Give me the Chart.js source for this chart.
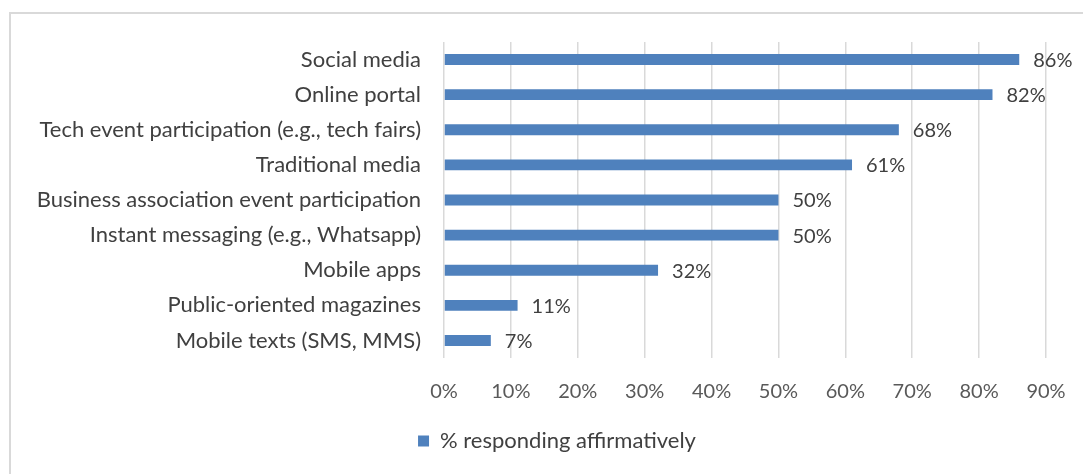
<!DOCTYPE html>
<html lang="en">
<head>
    <meta charset="UTF-8">
    <title>% responding affirmatively</title>
    <script src="https://cdn.jsdelivr.net/npm/chart.js"></script>
    <style>
        html, body {
            margin: 0;
            padding: 0;
            background: #ffffff;
            overflow: hidden;
        }
        .frame {
            position: absolute;
            left: 9px;
            top: 12px;
            width: 1200px;
            height: 600px;
            border-left: 2px solid #d9d9d9;
            border-top: 2px solid #d9d9d9;
        }
        #chartBox {
            position: absolute;
            left: 0;
            top: 0;
            width: 1083px;
            height: 474px;
        }
    </style>
</head>
<body>
    <div class="frame"></div>
    <div id="chartBox">
        <canvas id="channelChart"></canvas>
    </div>

    <script>
        // channels and share of respondents using each one
        const categories = [
            'Social media',
            'Online portal',
            'Tech event participation (e.g., tech fairs)',
            'Traditional media',
            'Business association event participation',
            'Instant messaging (e.g., Whatsapp)',
            'Mobile apps',
            'Public-oriented magazines',
            'Mobile texts (SMS, MMS)'
        ];
        const values = [86, 82, 68, 61, 50, 50, 32, 11, 7];
        const seriesName = '% responding affirmatively';
        const axisMax = 90;
        const axisStep = 10;

        const fontFamily = 'Lato, "Open Sans", sans-serif';
        const textSize = 22;   // category names and legend
        const numberSize = 20; // percentages

        const plotLeft = 444;
        const legendShift = 34;

        // write the percentage just past the end of each bar
        const valueLabels = {
            id: 'valueLabels',
            afterDatasetsDraw(chart) {
                const ctx = chart.ctx;
                const meta = chart.getDatasetMeta(0);
                ctx.save();
                ctx.font = numberSize + 'px ' + fontFamily;
                ctx.fillStyle = '#404040';
                ctx.textAlign = 'left';
                ctx.textBaseline = 'middle';
                meta.data.forEach((bar, i) => {
                    ctx.fillText(values[i] + '%', bar.x + 14, bar.y + 1);
                });
                ctx.restore();
            }
        };

        // legend sits a little right of the canvas centre
        const nudgeLegend = {
            id: 'nudgeLegend',
            afterLayout(chart) {
                if (chart.legend) {
                    chart.legend.left += legendShift;
                    chart.legend.right += legendShift;
                }
            }
        };

        const ctx = document.getElementById('channelChart').getContext('2d');
        const channelChart = new Chart(ctx, {
            type: 'bar',
            data: {
                labels: categories,
                datasets: [{
                    label: seriesName,
                    data: values,
                    backgroundColor: '#4f81bd',
                    borderWidth: 0,
                    barPercentage: 0.62,
                    categoryPercentage: 0.5
                }]
            },
            options: {
                indexAxis: 'y',
                responsive: true,
                maintainAspectRatio: false,
                animation: false,
                layout: {
                    padding: { top: 42, right: 37, bottom: 12, left: 0 }
                },
                scales: {
                    x: {
                        min: 0,
                        max: axisMax,
                        border: { display: false },
                        grid: {
                            color: '#d9d9d9',
                            lineWidth: 1.5,
                            drawTicks: false
                        },
                        ticks: {
                            stepSize: axisStep,
                            padding: 22,
                            color: '#595959',
                            font: { family: fontFamily, size: numberSize },
                            callback: v => v + '%'
                        },
                        afterFit(scale) {
                            scale.height = 62;
                            scale.paddingRight = 0;
                            scale.paddingLeft = 0;
                        }
                    },
                    y: {
                        border: { display: false },
                        grid: { display: false, drawTicks: false },
                        ticks: {
                            padding: 23,
                            color: '#404040',
                            font: { family: fontFamily, size: textSize }
                        },
                        afterFit(scale) { scale.width = plotLeft; }
                    }
                },
                plugins: {
                    legend: {
                        position: 'bottom',
                        labels: {
                            boxWidth: 11,
                            boxHeight: 11,
                            padding: 10,
                            color: '#404040',
                            font: { family: fontFamily, size: textSize }
                        }
                    },
                    tooltip: { enabled: false }
                }
            },
            plugins: [valueLabels, nudgeLegend]
        });
    </script>
</body>
</html>
